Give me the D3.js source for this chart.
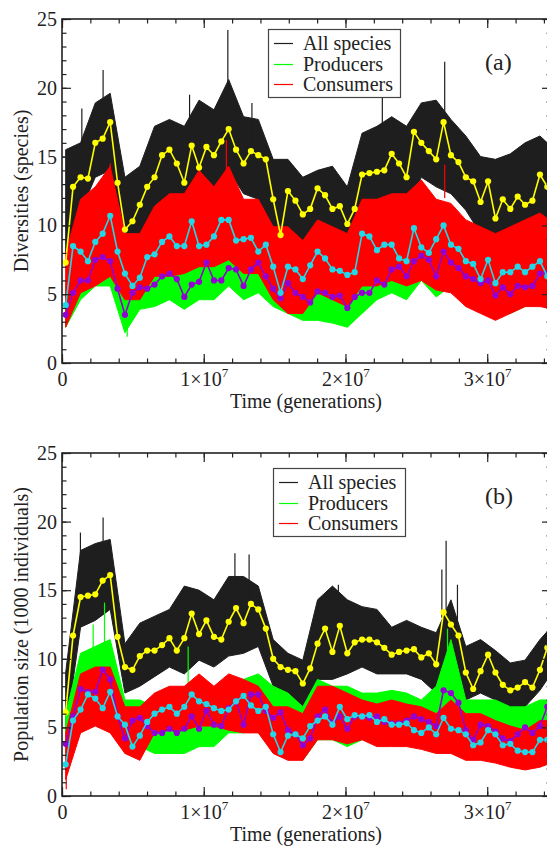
<!DOCTYPE html>
<html>
<head>
<meta charset="utf-8">
<script src="https://cdn.jsdelivr.net/npm/d3@7"></script>
<style>
  body { margin: 0; background: #fff; }
  svg { display: block; }
  text { font-family: "Liberation Serif", "Times New Roman", serif; fill: #222; }
</style>
</head>
<body>
<svg id="chart" width="547" height="846"></svg>
<script>
// centres of the averaging windows, in million generations
var avgTimes = [0.26, 0.78, 1.31, 1.83, 2.35, 2.87, 3.40, 3.92, 4.44, 4.97, 5.49, 6.01, 6.53, 7.06, 7.58, 8.10,
	8.63, 9.15, 9.67, 10.19, 10.72, 11.24, 11.76, 12.28, 12.81, 13.33, 13.85, 14.38, 14.90, 15.42, 15.94, 16.47,
	16.99, 17.51, 18.03, 18.56, 19.08, 19.60, 20.13, 20.65, 21.17, 21.69, 22.22, 22.74, 23.26, 23.78, 24.31, 24.83,
	25.35, 25.88, 26.40, 26.92, 27.44, 27.97, 28.49, 29.01, 29.53, 30.06, 30.58, 31.10, 31.63, 32.15, 32.67, 33.19,
	33.72, 34.24];

// (a) diversities - window averages
var divAll = [7.3, 12.8, 13.5, 13.4, 16.0, 16.3, 17.5, 13.1, 9.7, 10.3, 11.5, 12.8, 13.5, 15.1, 15.5, 14.5, 13.1,
	15.8, 14.2, 15.7, 15.1, 16.1, 17.0, 15.5, 14.5, 15.4, 15.1, 14.8, 11.9, 9.3, 12.5, 11.8, 10.8, 11.2, 12.7, 12.2,
	11.2, 11.4, 10.1, 11.2, 13.7, 13.8, 13.9, 14.0, 15.2, 14.5, 13.5, 16.8, 16.0, 15.4, 14.8, 17.5, 15.1, 14.6, 13.5,
	13.2, 11.7, 13.2, 10.5, 11.9, 11.2, 12.1, 11.5, 11.8, 13.7, 12.8];
var divCons = [4.2, 8.5, 8.1, 7.4, 8.8, 9.4, 10.7, 8.1, 6.5, 5.6, 6.2, 7.7, 7.9, 8.8, 9.2, 8.5, 8.5, 10.3, 8.5,
	8.6, 9.2, 10.4, 10.4, 8.9, 9.0, 9.1, 8.1, 8.6, 7.0, 5.1, 7.0, 6.8, 6.1, 7.1, 8.1, 7.6, 6.8, 6.7, 6.4, 6.6, 9.4,
	9.2, 8.2, 8.6, 8.6, 7.6, 7.4, 9.8, 8.4, 8.0, 9.0, 10.0, 8.6, 8.3, 7.4, 7.2, 6.1, 7.5, 5.8, 6.6, 6.6, 7.0, 6.6,
	7.0, 7.4, 6.3];
var divProd = [3.5, 5.1, 6.0, 6.0, 7.5, 7.7, 7.4, 5.4, 3.5, 5.1, 5.5, 5.4, 5.7, 6.3, 6.5, 6.1, 4.8, 5.7, 5.9, 7.3,
	6.0, 6.0, 6.9, 6.8, 5.6, 6.8, 7.3, 6.3, 5.4, 4.7, 5.8, 5.1, 4.8, 4.4, 5.2, 5.1, 4.8, 4.9, 4.0, 4.8, 5.1, 5.1,
	6.0, 5.7, 6.8, 7.0, 6.3, 7.4, 7.8, 7.5, 6.3, 8.1, 7.3, 6.9, 6.3, 6.1, 5.8, 6.0, 4.9, 5.5, 5.0, 5.6, 5.5, 5.6,
	6.5, 6.5];

// (a) raw traces: band of the dense noise (every second window + last) and isolated spikes [t, base, peak]
var divAllHi = [15.5, 16, 18.9, 19.6, 13.5, 14.3, 17.2, 17.7, 17.2, 19.1, 18.4, 20.6, 17.9, 17.7, 14.8, 14.8, 13.5,
	14, 14.3, 12.8, 16.7, 17.2, 17.9, 17.2, 18.9, 19.1, 17.7, 16.5, 15, 14.8, 15.2, 16, 16.5, 16];
var divAllLo = [8, 11, 13.5, 14, 8.5, 9, 11.1, 12.3, 11.1, 11.9, 12.3, 14, 12.3, 11.9, 9, 9.4, 8.5,
	9.2, 8.7, 7.5, 11.1, 11.6, 12.3, 11.1, 13.5, 12.8, 12.3, 11.1, 9.4, 8.5, 9, 9.9, 10.6, 10.5];
var divConsHi = [8, 11.9, 12.8, 14.3, 9.4, 9.4, 11.4, 12.3, 12.3, 14, 12.8, 14.3, 11.9, 11.9, 9.9, 9.9, 8.9,
	10.4, 9.9, 9.4, 11.9, 11.9, 12.3, 12.3, 13.3, 11.9, 11.6, 10.4, 9.9, 9.4, 9.9, 10.4, 10.9, 10.5];
var divConsLo = [2.6, 5.1, 5.6, 6.3, 4.6, 4.6, 6.3, 6.3, 6.5, 7, 7, 7.5, 6.5, 6.5, 4.6, 3.6, 3.6,
	5.1, 4.6, 4.1, 5.6, 5.6, 6, 5.6, 6, 5.3, 5.1, 4.1, 3.6, 3.1, 3.6, 4.1, 4.1, 4];
var divProdHi = [5.6, 7, 8, 8, 5.3, 6.5, 7, 7.5, 6.5, 7.5, 7.7, 8, 7, 7.5, 6.5, 6.5, 6,
	6.5, 6.3, 6, 6.8, 7.5, 8, 7.7, 8.9, 8, 8.5, 7.5, 7, 6.3, 6.3, 6.5, 7.2, 7.5];
var divProdLo = [2.6, 4.6, 5.6, 5.6, 2.2, 3.9, 4.1, 4.6, 3.9, 4.6, 4.6, 5.6, 4.6, 5.1, 4.1, 3.6, 3.1,
	3.1, 2.9, 2.6, 3.6, 4.6, 5.1, 4.6, 6, 4.8, 5.6, 4.6, 4.1, 3.6, 3.6, 4.1, 4.3, 4.5];
var divAllSpikes = [[1.4, 15, 18.5], [2.9, 18, 21.3], [9.0, 17, 19.5], [11.7, 19, 24.2], [13.4, 16, 18.9],
	[22.6, 15, 19.3], [27.0, 18, 21.9]];
var divConsSpikes = [[3.4, 13, 14.5], [11.6, 14, 16.2], [27.0, 12, 14.4]];
var divProdSpikes = [[4.6, 3, 1.9]];

// (b) population sizes, 1000 individuals - window averages
var popAll = [6.1, 11.7, 14.5, 14.6, 14.7, 15.7, 16.1, 11.6, 9.4, 9.2, 10.2, 10.6, 10.6, 11.0, 11.5, 10.6, 11.5,
	13.3, 11.8, 12.8, 11.6, 11.4, 12.7, 13.7, 12.6, 14.0, 13.6, 12.2, 10.0, 9.4, 9.2, 9.1, 8.2, 9.3, 11.1, 12.2,
	10.5, 12.4, 10.4, 11.2, 11.4, 11.4, 11.2, 10.8, 10.3, 10.5, 10.6, 10.7, 10.1, 10.4, 9.6, 13.4, 12.5, 11.7, 9.0,
	7.8, 9.1, 10.3, 9.0, 8.1, 7.7, 7.9, 8.3, 7.9, 9.2, 10.8];
var popCons = [2.3, 5.5, 6.3, 7.4, 7.1, 6.4, 7.6, 5.8, 5.2, 3.6, 4.4, 5.4, 6.0, 6.3, 6.5, 6.0, 6.5, 7.4, 6.9, 6.7,
	6.4, 6.2, 6.3, 6.9, 7.3, 6.6, 6.2, 6.5, 4.5, 3.2, 4.4, 4.5, 4.2, 5.1, 5.5, 5.8, 5.2, 6.5, 5.6, 5.9, 5.8, 5.9,
	5.4, 5.6, 5.2, 5.2, 5.3, 4.8, 4.6, 5.0, 4.5, 5.7, 4.9, 4.8, 4.5, 3.7, 3.9, 4.8, 4.5, 3.7, 3.8, 3.3, 3.2, 3.2,
	4.1, 4.1];
var popProd = [3.8, 5.8, 7.8, 7.6, 7.6, 9.2, 8.5, 5.8, 4.2, 5.5, 5.7, 5.1, 4.6, 4.6, 4.9, 4.6, 4.9, 5.8, 4.9, 6.2,
	5.2, 5.1, 6.4, 6.9, 5.2, 7.4, 7.4, 6.2, 5.7, 6.1, 4.8, 4.5, 3.7, 4.2, 5.8, 6.3, 5.3, 5.8, 4.9, 5.8, 5.8, 5.7,
	5.8, 5.4, 5.3, 5.3, 5.5, 5.8, 5.6, 5.4, 5.1, 7.7, 7.5, 6.8, 4.8, 4.1, 5.2, 5.1, 4.7, 4.2, 4.0, 4.5, 5.0, 4.6,
	5.1, 6.5];

// (b) raw traces
var popAllHi = [9, 17.9, 18.4, 18.7, 11.1, 12.6, 13.1, 13.6, 15.3, 15, 14.3, 16, 16, 15.3, 11.4, 10.4, 9.9,
	14.3, 15.3, 14.3, 13.8, 13.6, 12.3, 12.8, 12.3, 11.9, 14.3, 10.9, 11.4, 10.6, 9.7, 9.9, 11.4, 12];
var popAllLo = [4.6, 12.3, 12.8, 13.6, 7.5, 8, 8.7, 9.4, 8.9, 9.9, 9.4, 10.2, 10.4, 10.9, 8, 7.5, 6.5,
	8.5, 8.5, 8.9, 9.4, 8.9, 8.9, 8.9, 8.5, 7.5, 10.4, 7, 7.5, 7, 6.3, 6.5, 7.7, 8.5];
var popConsHi = [4.6, 8.9, 9.4, 9.4, 6.5, 6.5, 7.5, 8, 8, 8.9, 8, 8.9, 8.5, 8, 6.5, 6.5, 6,
	8, 8, 7.5, 7, 6.7, 7, 6.7, 6.5, 6, 7, 6, 6, 5.5, 5.1, 4.8, 5.5, 5.5];
var popConsLo = [1.2, 4.6, 5.1, 4.6, 3.1, 2.6, 4.6, 4.8, 4.8, 5.1, 5.1, 4.8, 4.6, 4.6, 3.1, 2.6, 2.6,
	4.1, 4.1, 3.8, 4.1, 3.6, 3.6, 3.6, 3.4, 3.1, 3.1, 2.6, 2.6, 2.4, 2.1, 1.9, 2.1, 2.3];
var popProdHi = [6, 10.4, 10.9, 11.4, 7, 7, 6.5, 6.5, 7.5, 8, 7.5, 8, 8.5, 8.9, 8, 7.5, 6.5,
	8.5, 8, 8, 7.5, 7.5, 7.7, 7.5, 7, 8, 11.4, 7, 7, 7, 6.5, 6.5, 7, 7];
var popProdLo = [3.1, 5.5, 6, 6.5, 3.1, 3.6, 3.1, 3.1, 3.1, 3.6, 3.6, 4.6, 4.6, 5.1, 4.1, 3.6, 2.6,
	4.1, 4.1, 3.6, 4.1, 4.1, 4.1, 4.1, 3.8, 4.1, 6.5, 4.1, 3.6, 3.6, 3.6, 3.6, 4.1, 4];
var popAllSpikes = [[1.3, 15, 19.2], [2.9, 17, 20.3], [12.2, 14, 17.7], [13.2, 14, 17.6], [19.5, 13, 15.4],
	[26.8, 13, 16.5], [27.1, 13, 18.6], [27.9, 12, 15.4]];
var popConsSpikes = [[0.3, 2, 0.5]];
var popProdSpikes = [[2.2, 10, 12.5], [3.0, 11, 14.1], [8.9, 8, 10.9], [27.2, 10, 12.2]];

var seriesNames = ["All species", "Producers", "Consumers"];
var xMajor = [0, 1e7, 2e7, 3e7];
var yMajor = [0, 5, 10, 15, 20, 25];

var rawColors = { all: "#1e1e1e", prod: "#00ff00", cons: "#ff0000" };
var avgColors = { all: "#ffff00", prod: "#9400d3", cons: "#22d8e8" };

var envTimes = avgTimes.filter(function(t, i) { return i % 2 === 0 || i === avgTimes.length - 1; });

var svg = d3.select("#chart");

var x = d3.scaleLinear().domain([0, 3.45e7]).range([62, 551]);

var panels = [{
	id: "a", top: 19, bottom: 363, ylabel: "Diversities (species)", tag: "(a)",
	legend: { x: 268, y: 29 },
	avg: { all: divAll, cons: divCons, prod: divProd },
	hi: { all: divAllHi, cons: divConsHi, prod: divProdHi },
	lo: { all: divAllLo, cons: divConsLo, prod: divProdLo },
	spikes: { all: divAllSpikes, cons: divConsSpikes, prod: divProdSpikes }
}, {
	id: "b", top: 453, bottom: 796, ylabel: "Population size (1000 individuals)", tag: "(b)",
	legend: { x: 273, y: 468 },
	avg: { all: popAll, cons: popCons, prod: popProd },
	hi: { all: popAllHi, cons: popConsHi, prod: popProdHi },
	lo: { all: popAllLo, cons: popConsLo, prod: popProdLo },
	spikes: { all: popAllSpikes, cons: popConsSpikes, prod: popProdSpikes }
}];

panels.forEach(function(p) {
	var y = d3.scaleLinear().domain([0, 25]).range([p.bottom, p.top]);
	var g = svg.append("g").attr("class", "panel-" + p.id);

	g.append("clipPath").attr("id", "clip-" + p.id)
		.append("rect")
		.attr("x", x(0)).attr("y", p.top)
		.attr("width", x.range()[1] - x(0)).attr("height", p.bottom - p.top);

	var plot = g.append("g").attr("clip-path", "url(#clip-" + p.id + ")");

	// noisy raw traces
	var band = d3.area()
		.x(function(d) { return x(d.t); })
		.y0(function(d) { return y(d.lo); })
		.y1(function(d) { return y(d.hi); });

	["all", "prod", "cons"].forEach(function(k) {
		var rows = envTimes.map(function(t, i) {
			return { t: t * 1e6, hi: p.hi[k][i], lo: p.lo[k][i] };
		});
		plot.append("path")
			.datum(rows)
			.attr("d", band)
			.attr("fill", rawColors[k])
			.attr("stroke", rawColors[k])
			.attr("stroke-width", 1);
		plot.selectAll(".spike-" + k)
			.data(p.spikes[k])
			.enter().append("line")
			.attr("class", "spike-" + k)
			.attr("x1", function(d) { return x(d[0] * 1e6); })
			.attr("x2", function(d) { return x(d[0] * 1e6); })
			.attr("y1", function(d) { return y(d[1]); })
			.attr("y2", function(d) { return y(d[2]); })
			.attr("stroke", rawColors[k])
			.attr("stroke-width", 1.2);
	});

	// window averages with markers
	var line = d3.line()
		.x(function(d) { return x(d.t); })
		.y(function(d) { return y(d.v); });

	["all", "prod", "cons"].forEach(function(k) {
		var pts = avgTimes.map(function(t, i) { return { t: t * 1e6, v: p.avg[k][i] }; });
		plot.append("path")
			.datum(pts)
			.attr("d", line)
			.attr("fill", "none")
			.attr("stroke", avgColors[k])
			.attr("stroke-width", 1.6);
		plot.selectAll(".dot-" + k)
			.data(pts)
			.enter().append("circle")
			.attr("class", "dot-" + k)
			.attr("cx", function(d) { return x(d.t); })
			.attr("cy", function(d) { return y(d.v); })
			.attr("r", 3.1)
			.attr("fill", avgColors[k]);
	});

	// axes, ticks pointing inwards on all four sides
	var xMinor = d3.range(0, 3.45e7, 2e6);
	var yMinor = d3.range(0, 26, 1);

	function styleAxis(sel) {
		sel.select(".domain").remove();
		sel.selectAll(".tick line").attr("stroke", "#222").attr("stroke-width", 1.2);
		sel.selectAll("text").style("font-size", "20px").attr("fill", "#222");
	}

	var bottomMinor = g.append("g").attr("transform", "translate(0," + p.bottom + ")")
		.call(d3.axisBottom(x).tickValues(xMinor).tickSizeInner(-4.5).tickSizeOuter(0).tickFormat(""));
	styleAxis(bottomMinor);
	var bottom = g.append("g").attr("transform", "translate(0," + p.bottom + ")")
		.call(d3.axisBottom(x).tickValues(xMajor).tickSizeInner(-9).tickSizeOuter(0).tickPadding(9));
	styleAxis(bottom);
	bottom.selectAll(".tick text").each(function(d) {
		var t = d3.select(this);
		if (d === 0) { t.text("0"); return; }
		t.text(null);
		t.append("tspan").text(d / 1e7 + "\u00d710");
		t.append("tspan").attr("dy", -9).style("font-size", "13px").text("7");
	});

	var topMinor = g.append("g").attr("transform", "translate(0," + p.top + ")")
		.call(d3.axisTop(x).tickValues(xMinor).tickSizeInner(-4.5).tickSizeOuter(0).tickFormat(""));
	styleAxis(topMinor);
	var topAx = g.append("g").attr("transform", "translate(0," + p.top + ")")
		.call(d3.axisTop(x).tickValues(xMajor).tickSizeInner(-9).tickSizeOuter(0).tickFormat(""));
	styleAxis(topAx);

	var leftMinor = g.append("g").attr("transform", "translate(" + x(0) + ",0)")
		.call(d3.axisLeft(y).tickValues(yMinor).tickSizeInner(-4.5).tickSizeOuter(0).tickFormat(""));
	styleAxis(leftMinor);
	var left = g.append("g").attr("transform", "translate(" + x(0) + ",0)")
		.call(d3.axisLeft(y).tickValues(yMajor).tickSizeInner(-9).tickSizeOuter(0).tickPadding(5)
			.tickFormat(d3.format("d")));
	styleAxis(left);

	var rightMinor = g.append("g").attr("transform", "translate(" + x.range()[1] + ",0)")
		.call(d3.axisRight(y).tickValues(yMinor).tickSizeInner(-4.5).tickSizeOuter(0).tickFormat(""));
	styleAxis(rightMinor);
	var right = g.append("g").attr("transform", "translate(" + x.range()[1] + ",0)")
		.call(d3.axisRight(y).tickValues(yMajor).tickSizeInner(-9).tickSizeOuter(0).tickFormat(""));
	styleAxis(right);

	// frame
	g.append("rect")
		.attr("x", x(0)).attr("y", p.top)
		.attr("width", x.range()[1] - x(0)).attr("height", p.bottom - p.top)
		.attr("fill", "none").attr("stroke", "#222").attr("stroke-width", 1.6);

	// axis titles
	g.append("text")
		.attr("x", 306).attr("y", p.bottom + 45)
		.attr("text-anchor", "middle")
		.style("font-size", "20px")
		.text("Time (generations)");
	g.append("text")
		.attr("transform", "translate(28," + (p.top + p.bottom) / 2 + ") rotate(-90)")
		.attr("text-anchor", "middle")
		.style("font-size", "20px")
		.text(p.ylabel);

	// panel tag
	g.append("text")
		.attr("x", 485).attr("y", p.top + 51)
		.style("font-size", "24px")
		.text(p.tag);

	// legend
	var lg = g.append("g").attr("transform", "translate(" + p.legend.x + "," + p.legend.y + ")");
	lg.append("rect")
		.attr("x", 0.5).attr("y", 0.5)
		.attr("width", 132).attr("height", 68)
		.attr("fill", "#fff").attr("stroke", "#444").attr("stroke-width", 1.2);
	var keys = ["all", "prod", "cons"];
	var rowOffsets = [14.5, 35.5, 55.5];
	var rowsG = lg.selectAll(".lrow").data(seriesNames).enter().append("g")
		.attr("class", "lrow")
		.attr("transform", function(d, i) { return "translate(0," + rowOffsets[i] + ")"; });
	rowsG.append("line")
		.attr("x1", 6).attr("x2", 25)
		.attr("stroke", function(d, i) { return rawColors[keys[i]]; })
		.attr("stroke-width", 1.2);
	rowsG.append("text")
		.attr("x", 35).attr("y", 6.5)
		.style("font-size", "20px")
		.text(function(d) { return d; });
});
</script>
</body>
</html>
